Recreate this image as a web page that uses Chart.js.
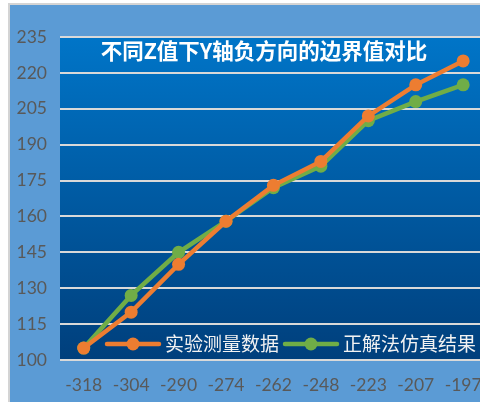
<!DOCTYPE html>
<html>
<head>
<meta charset="utf-8">
<script src="https://cdn.jsdelivr.net/npm/chart.js@4/dist/chart.umd.min.js"></script>
<style>
    html, body { margin: 0; padding: 0; background: #fff; overflow: hidden; }
    #wrap { position: relative; width: 497px; height: 402px; overflow: hidden; }
    #frame {
        position: absolute; left: 8px; top: 3px; right: 0; bottom: 0;
        border-left: 2px solid #d4d4d4; border-top: 2px solid #d4d4d4;
        background: #5b9bd5;
    }
    #chart { position: absolute; left: 0; top: 0; width: 497px; height: 402px; }
</style>
</head>
<body>
<div id="wrap">
    <div id="frame"></div>
    <canvas id="chart" width="497" height="402"></canvas>
</div>
<script>
const zValues = ["-318", "-304", "-290", "-274", "-262", "-248", "-223", "-207", "-197"];
const measured = [105, 120, 140, 158, 173, 183, 202, 215, 225];
const simulated = [105, 127, 145, 158, 172, 181, 200, 208, 215];
const yTicks = [100, 115, 130, 145, 160, 175, 190, 205, 220, 235];

const titleText = "不同Z值下Y轴负方向的边界值对比";

// gradient plot background
const plotBackground = {
    id: "plotBackground",
    beforeDraw(chart) {
        const { ctx, chartArea: a } = chart;
        const g = ctx.createLinearGradient(0, a.top, 0, a.bottom);
        g.addColorStop(0, "#0075c8");
        g.addColorStop(1, "#003f7c");
        ctx.save();
        ctx.fillStyle = g;
        ctx.fillRect(a.left, a.top, a.right - a.left, a.bottom - a.top);
        ctx.restore();
    }
};

// title sits inside the plot area
const innerTitle = {
    id: "innerTitle",
    beforeDatasetsDraw(chart) {
        const { ctx } = chart;
        ctx.save();
        ctx.font = "bold 21.5px 'Noto Sans CJK SC'";
        ctx.fillStyle = "#ffffff";
        ctx.textAlign = "center";
        ctx.textBaseline = "middle";
        ctx.fillText(titleText, 264, 51);
        ctx.restore();
    }
};

// legend drawn along the bottom of the plot
const innerLegend = {
    id: "innerLegend",
    afterDatasetsDraw(chart) {
        const { ctx } = chart;
        const spots = [107, 285];
        ctx.save();
        ctx.font = "19px 'Noto Sans CJK SC'";
        ctx.textBaseline = "middle";
        chart.data.datasets.forEach((ds, i) => {
            const x = spots[i], y = 344;
            ctx.strokeStyle = ds.borderColor;
            ctx.lineWidth = 4.5;
            ctx.lineCap = "round";
            ctx.beginPath();
            ctx.moveTo(x, y);
            ctx.lineTo(x + 52, y);
            ctx.stroke();
            ctx.fillStyle = ds.backgroundColor;
            ctx.beginPath();
            ctx.arc(x + 26, y, 6.5, 0, Math.PI * 2);
            ctx.fill();
            ctx.fillStyle = "#f2f2f2";
            ctx.fillText(ds.label, x + 58, y);
        });
        ctx.restore();
    }
};

new Chart(document.getElementById("chart").getContext("2d"), {
    type: "line",
    data: {
        labels: zValues,
        datasets: [
            {
                label: "实验测量数据",
                data: measured,
                borderColor: "#ed7d31",
                backgroundColor: "#ed7d31",
                borderWidth: 4.5,
                pointRadius: 6.5,
                pointBorderWidth: 0
            },
            {
                label: "正解法仿真结果",
                data: simulated,
                borderColor: "#70ad47",
                backgroundColor: "#70ad47",
                borderWidth: 4.5,
                pointRadius: 6.5,
                pointBorderWidth: 0
            }
        ]
    },
    options: {
        responsive: false,
        animation: false,
        layout: { padding: { left: 0, right: 0, top: 37, bottom: 0 } },
        plugins: {
            legend: { display: false },
            title: { display: false },
            tooltip: { enabled: false }
        },
        scales: {
            x: {
                offset: true,
                grid: { display: false, drawTicks: false },
                border: { display: false },
                ticks: {
                    color: "#595959",
                    font: { family: "Lato", size: 17.5 },
                    padding: 15,
                    maxRotation: 0,
                    autoSkip: false
                },
                afterFit(scale) { scale.height = 42; }
            },
            y: {
                min: yTicks[0],
                max: yTicks[yTicks.length - 1],
                afterBuildTicks(scale) { scale.ticks = yTicks.map(v => ({ value: v })); },
                grid: { color: "#d9d9d9", lineWidth: 2, drawTicks: false },
                border: { display: false },
                ticks: {
                    color: "#595959",
                    font: { family: "Lato", size: 17.5 },
                    padding: 13
                },
                afterFit(scale) { scale.width = 60; }
            }
        }
    },
    plugins: [plotBackground, innerTitle, innerLegend]
});
</script>
</body>
</html>
